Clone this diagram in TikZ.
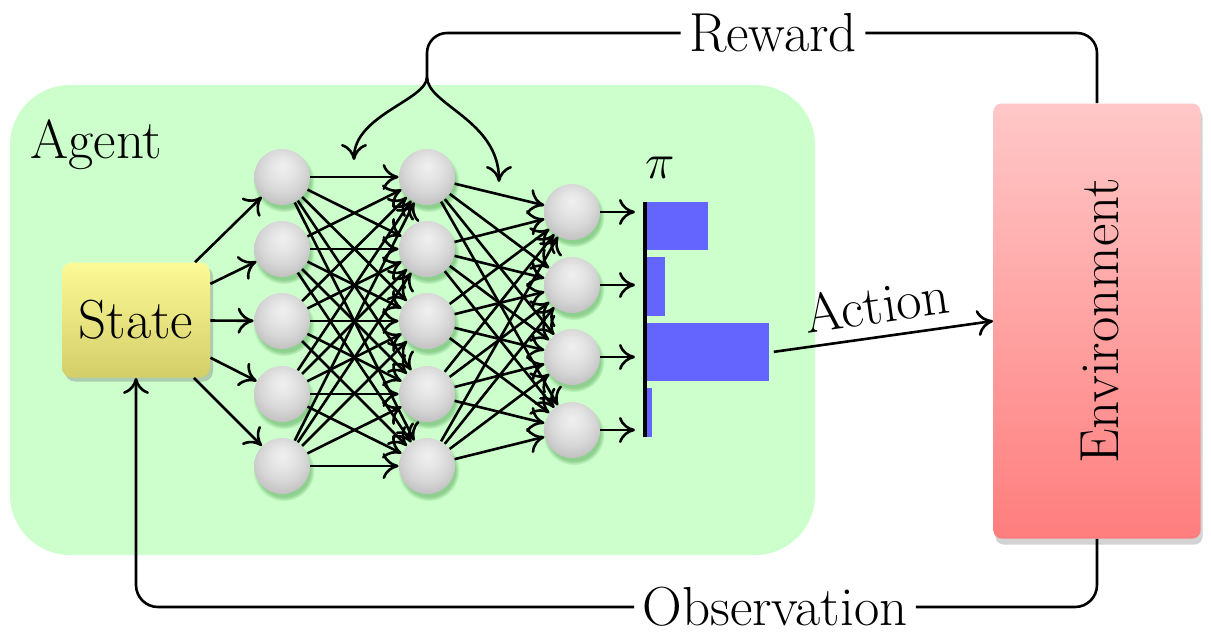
\documentclass[tikz,border=0pt]{standalone}
\usepackage{fontspec}
\usetikzlibrary{arrows.meta,shadows,shapes.geometric}
\pgfdeclareradialshading{neuronsh}{\pgfpoint{0bp}{10bp}}{color(0bp)=(gray!12); color(10bp)=(gray!20); color(20bp)=(gray!32); color(28bp)=(gray!46); color(35bp)=(gray!62); color(50bp)=(gray!62)}
\begin{document}
\begin{tikzpicture}[x=0.5pt,y=-0.5pt,
  txt/.style={font=\fontsize{27.5}{33}\selectfont, inner sep=4pt},
  neuron/.style={circle, minimum size=28pt, inner sep=0pt, shading=neuronsh,
     circular drop shadow={shadow xshift=0.8pt, shadow yshift=-2pt, fill=green!40!black, opacity=0.3}},
  conn/.style={line width=1.3pt, -{Computer Modern Rightarrow[length=8pt,width=13pt]}},
  plain/.style={line width=1.3pt},
  barbox/.style={fill={rgb,255:red,100;green,100;blue,255}, inner sep=0pt, anchor=north west}
]
\useasboundingbox (0,0) rectangle (1211,634);
% agent background
\fill[green!20, rounded corners=30pt] (10,85) rectangle (815,555);
\node[txt, anchor=base west] (agent) at (22,158) {Agent};
% environment
\node[txt, rounded corners=4pt, minimum width=103.5pt, minimum height=217.5pt,
  top color={rgb,255:red,255;green,200;blue,200}, bottom color={rgb,255:red,255;green,125;blue,125},
  drop shadow={shadow xshift=1pt, shadow yshift=-3pt, opacity=0.35}] (env) at (1097,321) {};
\node[txt, rotate=90] (envlabel) at (1100,321) {Environment};
% state
\node[txt, rounded corners=5pt, minimum width=74pt, minimum height=57.5pt,
  top color={rgb,255:red,252;green,250;blue,150}, bottom color={rgb,255:red,212;green,206;blue,105},
  drop shadow={shadow xshift=1.5pt, shadow yshift=-2pt, opacity=0.4}] (state) at (136,320) {State};
% neurons
\foreach \i/\y in {1/177,2/249,3/321,4/394,5/466}{
  \node[neuron] (a\i) at (282,\y) {};
  \node[neuron] (b\i) at (427,\y) {};
}
\foreach \i/\y in {1/212,2/285,3/357,4/430}{
  \node[neuron] (c\i) at (572,\y) {};
  \coordinate (o\i) at (635,\y);
}
% connections
\foreach \i in {1,...,5}{
  \draw[conn] (state) -- (a\i);
  \foreach \j in {1,...,5}{ \draw[conn] (a\i) -- (b\j); }
  \foreach \j in {1,...,4}{ \draw[conn] (b\i) -- (c\j); }
}
\foreach \i in {1,...,4}{ \draw[conn] (c\i) -- (o\i); }
% policy bars
\node[barbox, minimum width=31.5pt, minimum height=24pt] (p1) at (645,202) {};
\node[barbox, minimum width=10pt, minimum height=29.5pt] (p2) at (645,257) {};
\node[barbox, minimum width=62pt, minimum height=29pt] (p3) at (645,323) {};
\node[barbox, minimum width=3.5pt, minimum height=24.5pt] (p4) at (645,388) {};
\draw[line width=1.6pt] (645,202) -- (645,437);
\node[txt] (pi) at (660,168) {$\pi$};
% action
\draw[conn, shorten <=2pt] (p3.east) -- node[txt, above, sloped, pos=0.5, yshift=2pt] {Action} (env.west);
% reward
\node[txt] (reward) at (773,33) {Reward};
\coordinate (split) at (427,77);
\coordinate (t1) at (354,160);
\coordinate (t2) at (499,182);
\draw[plain, rounded corners=10pt] (env.north) |- (reward.east);
\draw[plain, rounded corners=10pt] (reward.west) -| (split);
\draw[conn] (split) .. controls (427,100) and (354,115) .. (t1);
\draw[conn] (split) .. controls (427,105) and (499,120) .. (t2);
% observation
\node[txt] (obs) at (775,607) {Observation};
\draw[plain, rounded corners=11pt] (env.south) |- (obs.east);
\draw[conn, rounded corners=11pt] (obs.west) -| (state.south);
\end{tikzpicture}
\end{document}
